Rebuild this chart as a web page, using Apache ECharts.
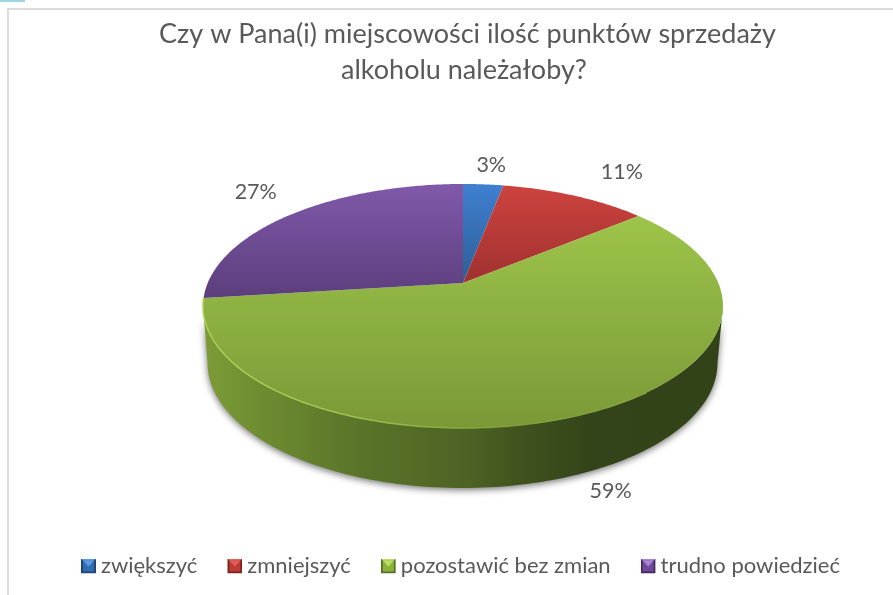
<!DOCTYPE html>
<html><head><meta charset="utf-8">
<style>html,body{margin:0;padding:0;background:#fff}#c{width:893px;height:595px}</style>
<script src="https://cdn.jsdelivr.net/npm/echarts@6/dist/echarts.min.js"></script>
</head><body><div id="c"></div>
<script>
const categories = ['zwiększyć','zmniejszyć','pozostawić bez zmian','trudno powiedzieć'];
const shares = [3, 11, 59, 27];
const titleLines = ['Czy w Pana(i) miejscowości ilość punktów sprzedaży','alkoholu należałoby?'];

const FONT = 'Lato, "Open Sans", sans-serif';
const TEXT = '#595959';
const sliceGrad = [['#3F80D0','#2D5E96'],['#CD433E','#9F3130'],['#9DC44A','#7A9937'],['#8059AA','#5C3E7C']];
const iconCols = [['#5C9BE0','#2F6CB0','#1F4673'],['#E0605B','#BE3B37','#7A2422'],['#BBDD66','#8CB23E','#55702A'],['#A884D6','#70499B','#43295F']];
const labelNudge = [[8,-19],[47,-24],[25,77],[-37,-22]];
// projection of the tilted disc
const P = {cx:463, cy:283, A:255.3, B:117.7, a:0.1885};
const TOP = {cx:463, cy:306, rx:260, ry:122};
const BOT = {cx:462.5, cy:363, rx:255, ry:125};
function proj(th){
  const s=Math.sin(th), c=Math.cos(th), w=1+P.a*c;
  return [P.cx+P.A*s/w, P.cy-P.B*c/w];
}
const total = shares.reduce((a,b)=>a+b,0);
function arcPts(e,from,to,n){
  const out=[];
  for(let i=0;i<=n;i++){const t=from+(to-from)*i/n; out.push([e.cx+e.rx*Math.cos(t), e.cy+e.ry*Math.sin(t)]);}
  return out;
}
function renderSlice(idx){
  return function(params,api){
    const v=api.value(0);
    let before=0; for(let i=0;i<idx;i++) before+=shares[i];
    const t0=before/total*2*Math.PI, t1=(before+v)/total*2*Math.PI;
    const n=Math.max(6,Math.round((t1-t0)*90));
    const pts=[[P.cx,P.cy]];
    for(let i=0;i<=n;i++) pts.push(proj(t0+(t1-t0)*i/n));
    const children=[];
    if(idx===2){
      const wall=arcPts(TOP,0,Math.PI,120).concat(arcPts(BOT,Math.PI,0,120));
      children.push({type:'polygon',shape:{points:wall},style:{
        fill:{type:'linear',x:207,y:0,x2:718,y2:0,global:true,colorStops:[
          {offset:0,color:'#7C9B37'},{offset:0.1,color:'#6E8D31'},{offset:0.3,color:'#5A7429'},
          {offset:0.5,color:'#4E6424'},{offset:0.62,color:'#3F521E'},{offset:0.75,color:'#34441A'},{offset:1,color:'#334318'}]},
        shadowColor:'rgba(0,0,0,0.55)',shadowBlur:7,shadowOffsetY:2}});
    }
    children.push({type:'polygon',shape:{points:pts},style:{
      fill:{type:'linear',x:0,y:0,x2:0,y2:1,colorStops:[{offset:0,color:sliceGrad[idx][0]},{offset:1,color:sliceGrad[idx][1]}]}}});
    if(idx===2){
      children.push({type:'polyline',shape:{points:arcPts(TOP,Math.PI*0.25,Math.PI*1.02,120)},style:{
        fill:null,lineWidth:1.5,stroke:{type:'linear',x:203,y:0,x2:720,y2:0,global:true,colorStops:[
          {offset:0,color:'#ABD257'},{offset:0.3,color:'#9CC24C'},{offset:0.6,color:'#7F9E3A'},{offset:1,color:'#87A83E'}]}}});
    }
    const mid=proj((t0+t1)/2);
    children.push({type:'text',z2:10,style:{text:v+'%',x:mid[0]+labelNudge[idx][0],y:mid[1]+labelNudge[idx][1],
      align:'center',verticalAlign:'middle',font:'21.5px '+FONT,fill:TEXT}});
    return {type:'group',children};
  };
}
function bevel(c){
  const svg=`<svg xmlns="http://www.w3.org/2000/svg" width="15" height="15"><rect width="15" height="15" fill="${c[2]}"/><polygon points="0,0 15,0 7.5,7.5" fill="${c[0]}"/><rect x="2" y="2" width="11" height="11" fill="${c[1]}"/><polygon points="2,2 13,2 7.5,8" fill="${c[0]}"/></svg>`;
  return 'image://data:image/svg+xml;charset=utf-8,'+encodeURIComponent(svg);
}
const titleStyle={fontFamily:FONT,fontSize:27,fontWeight:'normal',color:TEXT,lineHeight:36};
const chart=echarts.init(document.getElementById('c'),null,{renderer:'canvas'});
chart.setOption({
  animation:false,
  backgroundColor:'#fff',
  title:[
    {text:titleLines[0],left:467.5,top:16,padding:0,textAlign:'center',textStyle:titleStyle},
    {text:titleLines[1],left:464,top:52,padding:0,textAlign:'center',textStyle:titleStyle}
  ],
  legend:{left:76,top:550,itemWidth:15,itemHeight:15,itemGap:30,
    selectedMode:false,
    textStyle:{fontFamily:FONT,fontSize:22,color:TEXT},
    data:categories.map((n,i)=>({name:n,icon:bevel(iconCols[i])}))},
  graphic:[
    {type:'rect',shape:{x:0,y:0,width:25,height:2},style:{fill:'#9FD5E2'},silent:true},
    {type:'rect',shape:{x:7,y:8,width:886,height:2},style:{fill:'#DCDCDC'},silent:true},
    {type:'rect',shape:{x:7,y:8,width:2,height:587},style:{fill:'#DCDCDC'},silent:true}
  ],
  series:categories.map((n,i)=>({
    type:'custom',name:n,coordinateSystem:'none',silent:true,
    itemStyle:{color:sliceGrad[i][0]},
    renderItem:renderSlice(i),
    data:[[shares[i]]]
  }))
});
</script></body></html>
